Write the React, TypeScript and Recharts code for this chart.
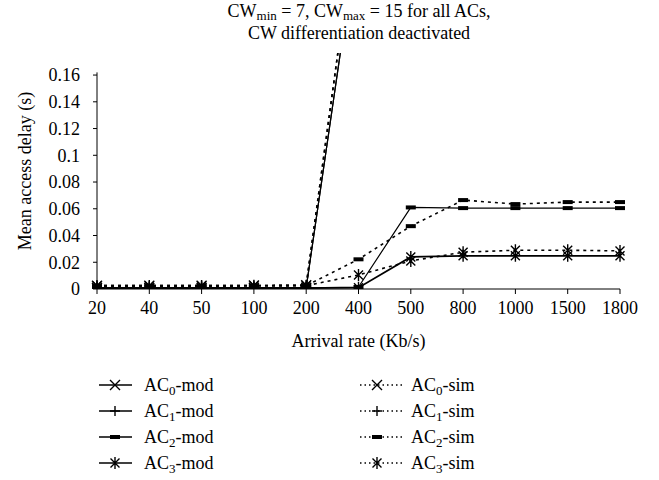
import React from 'react'
import { LineChart, Line, XAxis, YAxis, ReferenceLine } from 'recharts'

const rates = ['20', '40', '50', '100', '200', '400', '500', '800', '1000', '1500', '1800']

// model
const ac0Mod = [0.0008, 0.0008, 0.0008, 0.0009, 0.001, 0.27, 0.62, 0.95, 1.1, 1.3, 1.4]
const ac1Mod = [0.0008, 0.0008, 0.0008, 0.0009, 0.001, 0.27, 0.6, 0.93, 1.08, 1.28, 1.38]
const ac2Mod = [0.0006, 0.0006, 0.0007, 0.0007, 0.0008, 0.0015, 0.061, 0.0605, 0.0605, 0.0605, 0.0605]
const ac3Mod = [0.0005, 0.0005, 0.0006, 0.0006, 0.0007, 0.001, 0.024, 0.0248, 0.0248, 0.0248, 0.0248]

// simulation
const ac0Sim = [0.0025, 0.0025, 0.0025, 0.0026, 0.0028, 0.29, 0.66, 1.0, 1.15, 1.35, 1.45]
const ac1Sim = [0.0025, 0.0025, 0.0025, 0.0026, 0.0028, 0.29, 0.64, 0.98, 1.13, 1.33, 1.43]
const ac2Sim = [0.0022, 0.0022, 0.0023, 0.0024, 0.0025, 0.0222, 0.047, 0.0665, 0.0635, 0.065, 0.065]
const ac3Sim = [0.0022, 0.0022, 0.0023, 0.0024, 0.0025, 0.0105, 0.021, 0.0275, 0.029, 0.029, 0.0285]

const yTicks = [0, 0.02, 0.04, 0.06, 0.08, 0.1, 0.12, 0.14, 0.16]

const data = rates.map((rate, i) => ({
  rate,
  ac0Mod: ac0Mod[i],
  ac1Mod: ac1Mod[i],
  ac2Mod: ac2Mod[i],
  ac3Mod: ac3Mod[i],
  ac0Sim: ac0Sim[i],
  ac1Sim: ac1Sim[i],
  ac2Sim: ac2Sim[i],
  ac3Sim: ac3Sim[i]
}))

const series = [
  { key: 'ac0Sim', ac: 0, kind: 'x', sim: true },
  { key: 'ac1Sim', ac: 1, kind: '+', sim: true },
  { key: 'ac2Sim', ac: 2, kind: '-', sim: true },
  { key: 'ac3Sim', ac: 3, kind: '*', sim: true },
  { key: 'ac0Mod', ac: 0, kind: 'x', sim: false },
  { key: 'ac1Mod', ac: 1, kind: '+', sim: false },
  { key: 'ac2Mod', ac: 2, kind: '-', sim: false },
  { key: 'ac3Mod', ac: 3, kind: '*', sim: false }
]

const FONT = "'Liberation Serif', 'Times New Roman', Times, 'DejaVu Serif', 'Noto Serif', serif"
const SIM_DASH = '3 4'

function Mark({ cx, cy, kind }: { cx?: number; cy?: number; kind: string }) {
  if (cx == null || cy == null) return null
  const s = 5
  if (kind === '-') {
    return <rect x={cx - 5} y={cy - 2} width={10} height={4} fill="#000" />
  }
  let d = ''
  if (kind === 'x') {
    d = `M${cx - s},${cy - s}L${cx + s},${cy + s}M${cx - s},${cy + s}L${cx + s},${cy - s}`
  } else if (kind === '+') {
    d = `M${cx - s},${cy}L${cx + s},${cy}M${cx},${cy - s}L${cx},${cy + s}`
  } else {
    const a = 4.5
    d = `M${cx - a},${cy - a}L${cx + a},${cy + a}M${cx - a},${cy + a}L${cx + a},${cy - a}M${cx},${cy - 6}L${cx},${cy + 6}`
  }
  return <path d={d} stroke="#000" strokeWidth={1.4} fill="none" />
}

function Overlay() {
  const rows = [385, 411, 437, 463]
  return (
    <svg
      width={659}
      height={480}
      style={{ position: 'absolute', left: 0, top: 0, pointerEvents: 'none', fontFamily: FONT }}
      fontSize={18}
    >
      <text x={359} y={17} textAnchor="middle" fill="#000">
        CW<tspan fontSize={13} dy={3}>min</tspan>
        <tspan dy={-3}> = 7, CW</tspan>
        <tspan fontSize={13} dy={3}>max</tspan>
        <tspan dy={-3}> = 15 for all ACs,</tspan>
      </text>
      <text x={359} y={39} textAnchor="middle" fill="#000">
        CW differentiation deactivated
      </text>
      {rows.map((y, i) => (
        <g key={'m' + i}>
          <line x1={99} x2={132} y1={y} y2={y} stroke="#000" strokeWidth={1.3} />
          <Mark cx={115} cy={y} kind={series[i].kind} />
          <text x={144} y={y + 6} fill="#000">
            AC<tspan fontSize={13} dy={4}>{i}</tspan>
            <tspan dy={-4}>-mod</tspan>
          </text>
          <line x1={360} x2={402} y1={y} y2={y} stroke="#000" strokeWidth={1.3} strokeDasharray="1.5 3" />
          <Mark cx={377} cy={y} kind={series[i].kind} />
          <text x={411} y={y + 6} fill="#000">
            AC<tspan fontSize={13} dy={4}>{i}</tspan>
            <tspan dy={-4}>-sim</tspan>
          </text>
        </g>
      ))}
    </svg>
  )
}

export default function App() {
  return (
    <div
      style={{
        position: 'absolute',
        left: 0,
        top: 0,
        width: 659,
        height: 480,
        background: '#fff',
        fontFamily: FONT
      }}
    >
      <LineChart width={659} height={480} data={data} margin={{ top: 53, right: 39, left: 0, bottom: 131 }}>
        <XAxis
          dataKey="rate"
          height={60}
          stroke="#000"
          tickSize={5}
          tickMargin={7}
          tick={{ fill: '#000', fontSize: 18, fontFamily: FONT }}
          label={(p: any) => (
            <text
              x={p.viewBox.x + p.viewBox.width / 2}
              y={p.viewBox.y + 58}
              textAnchor="middle"
              fontSize={18}
              style={{ fontFamily: FONT }}
              fill="#000"
            >
              Arrival rate (Kb/s)
            </text>
          )}
        />
        <YAxis
          width={97}
          domain={[0, 0.1765]}
          allowDataOverflow
          ticks={yTicks}
          axisLine={false}
          tickSize={4}
          tickMargin={13}
          stroke="#000"
          tick={{ fill: '#000', fontSize: 18, fontFamily: FONT }}
          label={(p: any) => (
            <text
              x={25}
              y={p.viewBox.y + p.viewBox.height / 2}
              transform={`rotate(-90 25 ${p.viewBox.y + p.viewBox.height / 2})`}
              textAnchor="middle"
              dominantBaseline="central"
              fontSize={18}
              style={{ fontFamily: FONT }}
              fill="#000"
            >
              Mean access delay (s)
            </text>
          )}
        />
        <ReferenceLine
          segment={[
            { x: '20', y: 0 },
            { x: '20', y: 0.162 }
          ]}
          stroke="#000"
          strokeWidth={1}
          ifOverflow="visible"
        />
        {series.map((s) => (
          <Line
            key={s.key}
            dataKey={s.key}
            type="linear"
            stroke="#000"
            strokeWidth={s.sim ? 1.6 : s.ac === 3 ? 1.8 : 1.2}
            strokeDasharray={s.sim ? SIM_DASH : undefined}
            isAnimationActive={false}
            dot={(p: any) => <Mark key={`${s.key}-${p.index}`} cx={p.cx} cy={p.cy} kind={s.kind} />}
            activeDot={false}
          />
        ))}
      </LineChart>
      <Overlay />
    </div>
  )
}
